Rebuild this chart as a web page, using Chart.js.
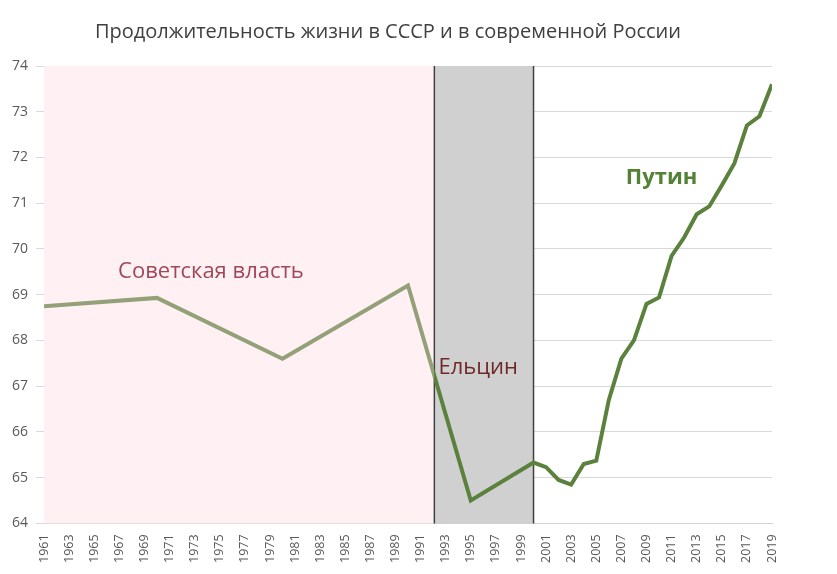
<!DOCTYPE html>
<html><head><meta charset="utf-8">
<script src="https://cdn.jsdelivr.net/npm/chart.js@4"></script>
<style>body{margin:0;background:#fff}#w{width:837px;height:574px}</style></head>
<body><div id="w"><canvas id="c"></canvas></div>
<script>
const years=[1961,1970,1980,1990,1995,2000,2001,2002,2003,2004,2005,2006,2007,2008,2009,2010,2011,2012,2013,2014,2015,2016,2017,2018,2019];
const values=[68.75,68.93,67.6,69.2,64.5,65.33,65.23,64.95,64.85,65.3,65.37,66.7,67.6,68.0,68.8,68.94,69.85,70.25,70.76,70.93,71.39,71.87,72.7,72.9,73.6];
const sovietEnd=1992.1, yeltsinEnd=2000;
const periods=[{t:'Советская власть',x:1974.3,y:69.5,c:'#a0485a'},{t:'Ельцин',x:1995.6,y:67.4,c:'#6e2a2a'},{t:'Путин',x:2010.2,y:71.55,c:'#548235',b:true}];
const bg={id:'bg',beforeDatasetsDraw(ch){const {ctx,chartArea:a,scales:{x}}=ch;const s=x.getPixelForValue(sovietEnd),e=x.getPixelForValue(yeltsinEnd);
ctx.save();ctx.fillStyle='#fff0f3';ctx.fillRect(a.left,a.top,s-a.left,a.bottom-a.top);ctx.fillStyle='#d0d0d0';ctx.fillRect(s,a.top,e-s,a.bottom-a.top);
ctx.strokeStyle='#404040';ctx.lineWidth=1.5;ctx.beginPath();ctx.moveTo(s,a.top);ctx.lineTo(s,a.bottom);ctx.moveTo(e,a.top);ctx.lineTo(e,a.bottom);ctx.stroke();ctx.restore();},
afterDatasetsDraw(ch){const {ctx,scales:{x,y}}=ch;ctx.save();ctx.textAlign='center';ctx.textBaseline='middle';periods.forEach(p=>{ctx.font=(p.b?'bold ':'')+'22px "Open Sans"';ctx.fillStyle=p.c;ctx.fillText(p.t,x.getPixelForValue(p.x),y.getPixelForValue(p.y));});ctx.restore();}};
new Chart(document.getElementById('c'),{type:'line',
data:{datasets:[{data:years.map((v,i)=>({x:v,y:values[i]})),borderWidth:4,pointRadius:0,tension:0,
borderColor(ctx){const ch=ctx.chart;if(!ch.chartArea)return '#548235';const px=ch.scales.x.getPixelForValue(sovietEnd);const g=ch.ctx.createLinearGradient(ch.chartArea.left,0,ch.chartArea.right,0);const f=Math.min(1,Math.max(0,(px-ch.chartArea.left)/(ch.chartArea.right-ch.chartArea.left)));g.addColorStop(0,'#93a078');g.addColorStop(f,'#93a078');g.addColorStop(f,'#5a823c');g.addColorStop(1,'#5a823c');return g;}}]},
options:{responsive:true,maintainAspectRatio:false,animation:false,layout:{padding:{left:4,right:65,top:6,bottom:8}},
plugins:{legend:{display:false},tooltip:{enabled:false},title:{display:true,text:'Продолжительность жизни в СССР и в современной России',color:'#404040',font:{family:'Open Sans',size:20,weight:'normal'},padding:{top:14,bottom:22}}},
scales:{x:{type:'linear',min:1961,max:2019,grid:{display:false},border:{color:'#d0d0d0'},ticks:{stepSize:2,maxRotation:90,minRotation:90,color:'#595959',font:{family:'Open Sans',size:12.5},callback:v=>String(v)}},
y:{min:64,max:74,grid:{color:'#d9d9d9'},border:{display:false},ticks:{stepSize:1,color:'#595959',font:{family:'Open Sans',size:14},padding:8}}}},
plugins:[bg]});
</script></body></html>
